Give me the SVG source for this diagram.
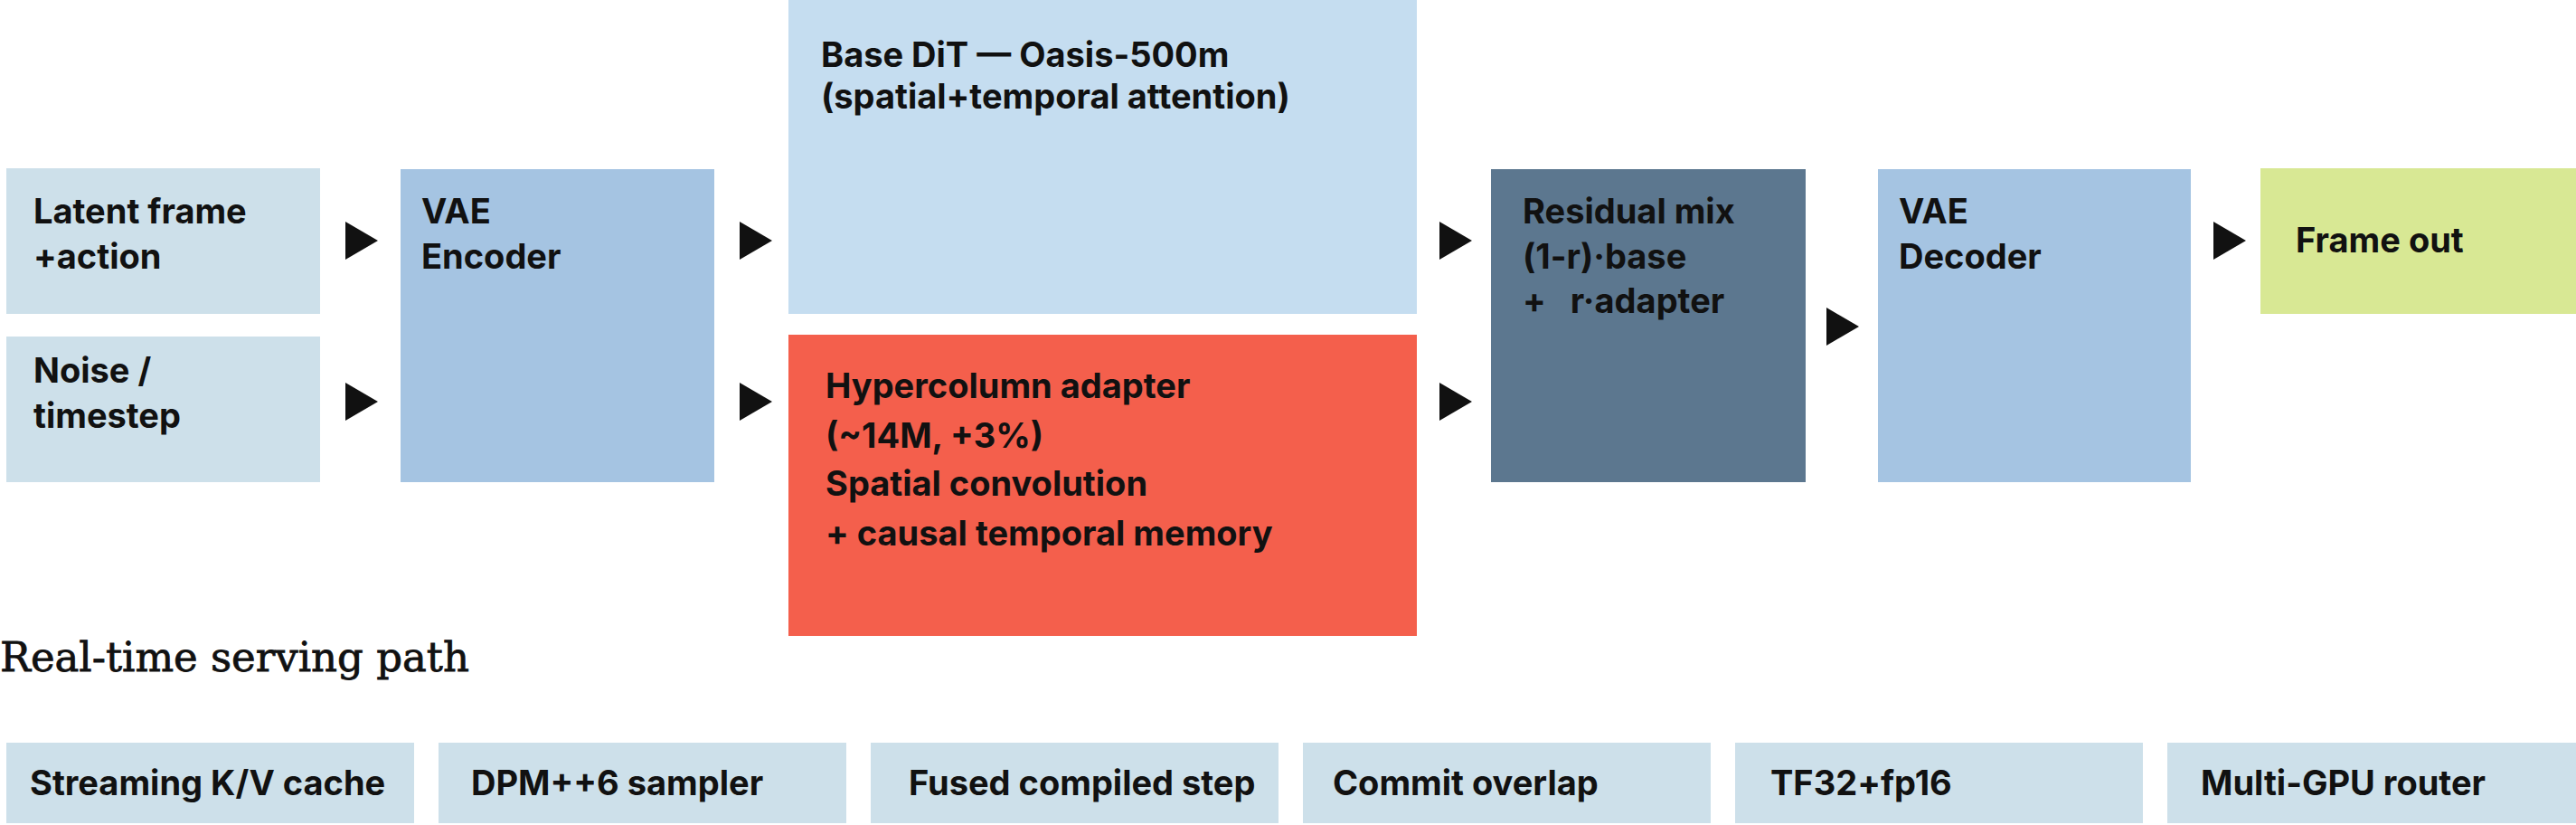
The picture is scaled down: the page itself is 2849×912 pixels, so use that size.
<svg xmlns="http://www.w3.org/2000/svg" width="2849" height="912" viewBox="0 0 2849 912">
<style>
.t{font-family:Inter,"Liberation Sans",sans-serif;font-weight:700;font-size:38px;fill:#111}
.h{font-family:"DejaVu Serif","Liberation Serif",serif;font-weight:400;font-size:45px;fill:#111;stroke:#111;stroke-width:0.8px}
.in{fill:#cde0ea}
.vae{fill:#a5c4e2}
.base{fill:#c5ddf0}
.hyp{fill:#f45f4c}
.res{fill:#5c778f}
.out{fill:#d8e894}
.ah{fill:#111}
</style>
<rect width="2849" height="912" fill="#ffffff"/>
<g id="latent">
<rect class="in" x="7" y="186" width="347" height="161"/>
<text class="t" x="37" y="247">Latent frame</text>
<text class="t" x="37" y="297">+action</text>
</g>
<g id="noise">
<rect class="in" x="7" y="372" width="347" height="161"/>
<text class="t" x="37" y="423">Noise /</text>
<text class="t" x="37" y="473">timestep</text>
</g>
<g id="vae-encoder">
<rect class="vae" x="443" y="187" width="347" height="346"/>
<text class="t" x="466" y="247">VAE</text>
<text class="t" x="466" y="297">Encoder</text>
</g>
<g id="base-dit">
<rect class="base" x="872" y="0" width="695" height="347"/>
<text class="t" x="908" y="74">Base DiT — Oasis-500m</text>
<text class="t" x="908" y="120">(spatial+temporal attention)</text>
</g>
<g id="hypercolumn">
<rect class="hyp" x="872" y="370" width="695" height="333"/>
<text class="t" x="913" y="440">Hypercolumn adapter</text>
<text class="t" x="913" y="495">(~14M, +3%)</text>
<text class="t" x="913" y="548">Spatial convolution</text>
<text class="t" x="913" y="603">+ causal temporal memory</text>
</g>
<g id="residual">
<rect class="res" x="1649" y="187" width="348" height="346"/>
<text class="t" x="1684" y="247">Residual mix</text>
<text class="t" x="1684" y="297">(1-r)·base</text>
<text class="t" x="1684" y="346" style="white-space:pre">+   r·adapter</text>
</g>
<g id="vae-decoder">
<rect class="vae" x="2077" y="187" width="346" height="346"/>
<text class="t" x="2100" y="247">VAE</text>
<text class="t" x="2100" y="297">Decoder</text>
</g>
<g id="frame-out">
<rect class="out" x="2500" y="186" width="349" height="161"/>
<text class="t" x="2539" y="279">Frame out</text>
</g>
<g id="connectors">
<polygon class="ah" points="382,245 418,266 382,287"/>
<polygon class="ah" points="382,423 418,444 382,465"/>
<polygon class="ah" points="818,245 854,266 818,287"/>
<polygon class="ah" points="818,423 854,444 818,465"/>
<polygon class="ah" points="1592,245 1628,266 1592,287"/>
<polygon class="ah" points="1592,423 1628,444 1592,465"/>
<polygon class="ah" points="2020,340 2056,361 2020,382"/>
<polygon class="ah" points="2448,245 2484,266 2448,287"/>
</g>
<g id="serving-title">
<text class="h" x="0" y="742">Real-time serving path</text>
</g>
<g id="serving-steps">
<g id="s1"><rect class="in" x="7" y="821" width="451" height="89"/><text class="t" x="33" y="879">Streaming K/V cache</text></g>
<g id="s2"><rect class="in" x="485" y="821" width="451" height="89"/><text class="t" x="521" y="879">DPM++6 sampler</text></g>
<g id="s3"><rect class="in" x="963" y="821" width="451" height="89"/><text class="t" x="1005" y="879">Fused compiled step</text></g>
<g id="s4"><rect class="in" x="1441" y="821" width="451" height="89"/><text class="t" x="1474" y="879">Commit overlap</text></g>
<g id="s5"><rect class="in" x="1919" y="821" width="451" height="89"/><text class="t" x="1958" y="879">TF32+fp16</text></g>
<g id="s6"><rect class="in" x="2397" y="821" width="452" height="89"/><text class="t" x="2434" y="879">Multi-GPU router</text></g>
</g>
</svg>
